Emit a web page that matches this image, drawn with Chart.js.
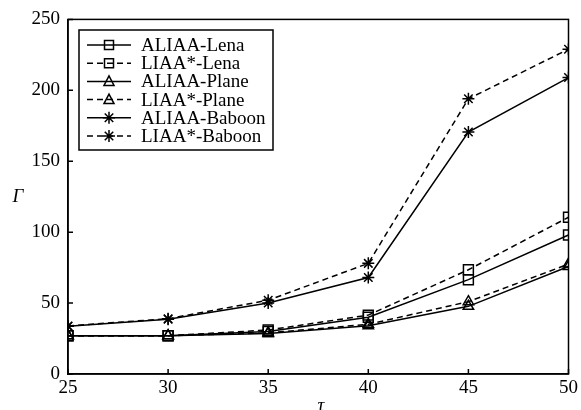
<!DOCTYPE html>
<html>
<head>
<meta charset="utf-8">
<script src="https://cdn.jsdelivr.net/npm/chart.js@4/dist/chart.umd.min.js"></script>
<style>
  body { margin: 0; background: #fff; }
  canvas { display: block; }
</style>
</head>
<body>
<canvas id="myChart" width="581" height="410"></canvas>
<script>
// ============== data ==============
const tau = [25, 30, 35, 40, 45, 50];
const yTicks = [0, 50, 100, 150, 200, 250];

const aliaaLena = [27, 27, 30, 40, 66.5, 98];
const liaaLena = [27, 27, 31, 41.5, 73.5, 110.5];
const aliaaPlane = [27, 27, 28.6, 34, 47.7, 75.8];
const liaaPlane = [27, 27, 29, 35, 51, 77.5];
const aliaaBaboon = [33.7, 38.6, 50, 68, 170.6, 209];
const liaaBaboon = [33.9, 39, 52, 78, 194, 229];

const seriesNames = [
  "ALIAA-Lena", "LIAA*-Lena",
  "ALIAA-Plane", "LIAA*-Plane",
  "ALIAA-Baboon", "LIAA*-Baboon",
];

const FONT = "'Liberation Serif', 'Times New Roman', serif";
const DASH = [6, 4];
const LW = 1.5;

function make_set(label, values, marker, dashed) {
  const radius = marker === "rect" ? 7 : 6;
  return {
    label: label,
    data: tau.map((t, i) => ({ x: t, y: values[i] })),
    borderColor: "#000",
    borderWidth: LW,
    borderDash: dashed ? DASH : [],
    pointStyle: marker,
    pointRadius: radius,
    pointHoverRadius: radius,
    pointBorderColor: "#000",
    pointBorderWidth: LW,
    pointBackgroundColor: "rgba(0,0,0,0)",
    tension: 0,
    fill: false,
  };
}

// markers for the hand drawn legend
function drawMarker(ctx, style, x, y) {
  ctx.save();
  ctx.setLineDash([]);
  ctx.beginPath();
  if (style === "rect") {
    ctx.rect(x - 4.5, y - 4.5, 9, 9);
  } else if (style === "triangle") {
    ctx.moveTo(x, y - 5.5);
    ctx.lineTo(x + 5, y + 4);
    ctx.lineTo(x - 5, y + 4);
    ctx.closePath();
  } else {
    for (let k = 0; k < 4; k++) {
      const a = (k * Math.PI) / 4;
      ctx.moveTo(x - 6 * Math.cos(a), y - 6 * Math.sin(a));
      ctx.lineTo(x + 6 * Math.cos(a), y + 6 * Math.sin(a));
    }
  }
  ctx.stroke();
  ctx.restore();
}

const frame = {
  id: "frame",
  afterDraw(chart) {
    const { ctx, chartArea: a, scales } = chart;
    ctx.save();
    ctx.strokeStyle = "#000";
    ctx.fillStyle = "#000";
    ctx.lineWidth = LW;
    ctx.strokeRect(a.left, a.top, a.right - a.left, a.bottom - a.top);

    // inward ticks
    ctx.beginPath();
    yTicks.forEach((v) => {
      const py = scales.y.getPixelForValue(v);
      ctx.moveTo(a.left, py);
      ctx.lineTo(a.left + 5, py);
    });
    tau.forEach((v) => {
      const px = scales.x.getPixelForValue(v);
      ctx.moveTo(px, a.bottom);
      ctx.lineTo(px, a.bottom - 5);
    });
    ctx.stroke();

    // axis names
    ctx.font = "italic 19px " + FONT;
    ctx.textAlign = "center";
    ctx.textBaseline = "middle";
    ctx.fillText("Γ", 18, 197);
    ctx.textBaseline = "alphabetic";
    ctx.fillText("τ", 321, 411);

    // legend
    const box = { x: 79, y: 30, w: 194, h: 120 };
    ctx.fillStyle = "#fff";
    ctx.fillRect(box.x, box.y, box.w, box.h);
    ctx.strokeRect(box.x, box.y, box.w, box.h);
    ctx.font = "19px " + FONT;
    ctx.textAlign = "left";
    ctx.textBaseline = "middle";
    chart.data.datasets.forEach((ds, i) => {
      const y = 45 + i * 18.2;
      ctx.beginPath();
      ctx.setLineDash(ds.borderDash);
      ctx.moveTo(87, y);
      ctx.lineTo(131, y);
      ctx.stroke();
      ctx.setLineDash([]);
      drawMarker(ctx, ds.pointStyle, 109, y);
      ctx.fillStyle = "#000";
      ctx.fillText(ds.label, 141, y + 1);
    });
    ctx.restore();
  },
};

const ctx = document.getElementById("myChart").getContext("2d");
new Chart(ctx, {
  type: "line",
  data: {
    datasets: [
      make_set(seriesNames[0], aliaaLena, "rect", false),
      make_set(seriesNames[1], liaaLena, "rect", true),
      make_set(seriesNames[2], aliaaPlane, "triangle", false),
      make_set(seriesNames[3], liaaPlane, "triangle", true),
      make_set(seriesNames[4], aliaaBaboon, "star", false),
      make_set(seriesNames[5], liaaBaboon, "star", true),
    ],
  },
  options: {
    responsive: false,
    animation: false,
    layout: { padding: { top: 18, right: 11, left: 0, bottom: 0 } },
    plugins: { legend: { display: false }, tooltip: { enabled: false } },
    scales: {
      x: {
        type: "linear",
        min: 25,
        max: 50,
        afterBuildTicks: (s) => { s.ticks = tau.map((v) => ({ value: v })); },
        afterFit: (s) => { s.height = 36; },
        ticks: { color: "#000", font: { family: FONT, size: 19 }, padding: 3, maxRotation: 0 },
        grid: { display: false, drawTicks: false },
        border: { color: "#000", width: LW },
      },
      y: {
        min: 0,
        max: 250,
        afterBuildTicks: (s) => { s.ticks = yTicks.map((v) => ({ value: v })); },
        afterFit: (s) => { s.width = 68; },
        ticks: { color: "#000", font: { family: FONT, size: 19 }, padding: 8 },
        grid: { display: false, drawTicks: false },
        border: { color: "#000", width: LW },
      },
    },
  },
  plugins: [frame],
});
</script>
</body>
</html>
